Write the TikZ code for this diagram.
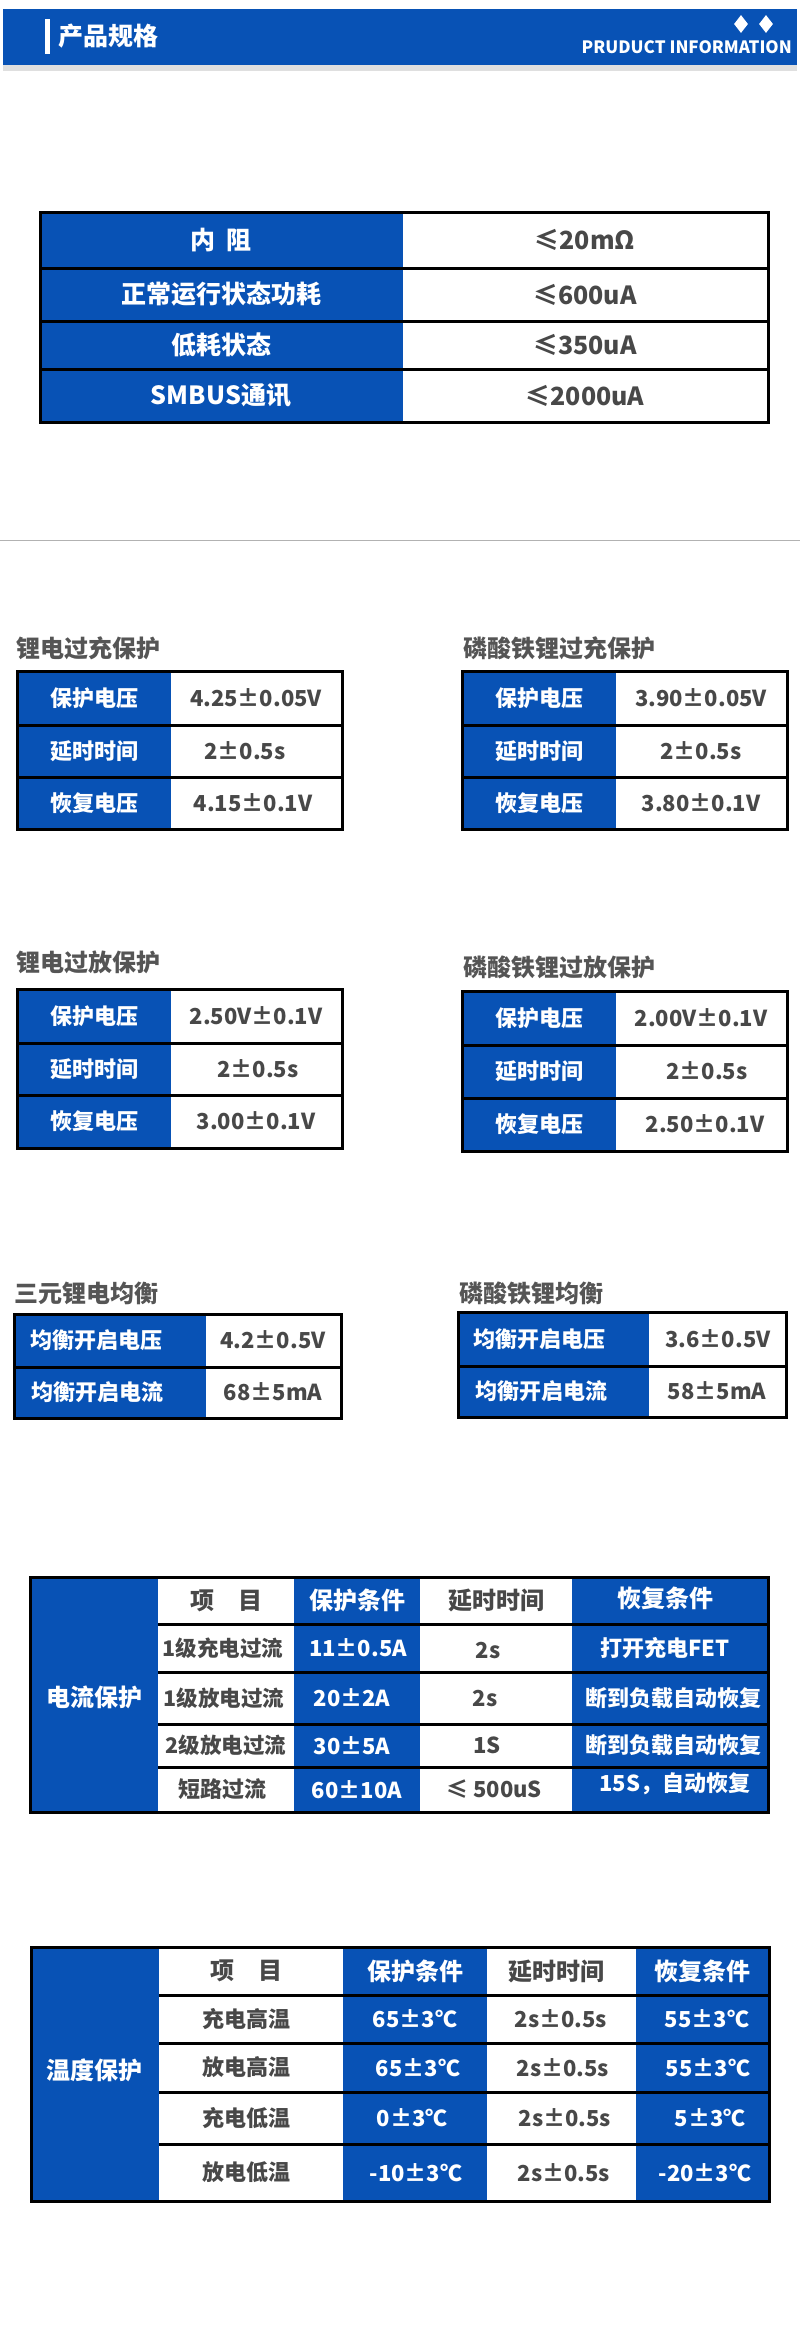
\documentclass[tikz,border=0pt]{standalone}
\usepackage{fontspec}
\usetikzlibrary{shapes.geometric}
\setmainfont{Noto Sans CJK SC}
\definecolor{specblue}{RGB}{8,82,181}
\definecolor{cellgray}{RGB}{72,72,72}
\definecolor{titlegray}{RGB}{85,85,85}
\begin{document}
\begin{tikzpicture}[x=1pt,y=-1pt,
    every node/.style={inner sep=0pt},
    hd/.style={text=white,font=\bfseries\fontsize{24}{24}\selectfont},
    hdg/.style={text=cellgray,font=\bfseries\fontsize{24}{24}\selectfont},
    big/.style={font=\bfseries\fontsize{25}{25}\selectfont},
    lbl/.style={text=white,font=\bfseries\fontsize{22}{22}\selectfont},
    val/.style={text=cellgray,font=\bfseries\fontsize{22}{22}\selectfont},
    item/.style={text=cellgray,font=\bfseries\fontsize{21.5}{21.5}\selectfont},
    ttl/.style={anchor=west,text=titlegray,font=\bfseries\fontsize{24}{24}\selectfont},
    rowline/.style={line width=3pt},
    frame/.style={line width=3pt}]
    \useasboundingbox (0,0) rectangle (800,2350);
    % header
    \fill[gray!25] (3,65) rectangle (797,71);
    \fill[specblue] (3,9) rectangle (797,65);
    \fill[white] (45,19) rectangle (50,54);
    \node[hd,big,anchor=west] (head) at (58,36) {产品规格};
    \node[fill=white,diamond,minimum width=14pt,minimum height=18pt] (dia1) at (741,24) {};
    \node[fill=white,diamond,minimum width=14pt,minimum height=18pt] (dia2) at (766,24) {};
    \node[anchor=east,text=white,font=\bfseries\fontsize{17}{17}\selectfont] (info) at (792,47) {PRUDUCT INFORMATION};
    % table 1
    \fill[specblue] (40,212) rectangle (403,422);
    \draw[rowline] (40,268) -- (768,268);
    \draw[rowline] (40,321) -- (768,321);
    \draw[rowline] (40,369) -- (768,369);
    \draw[frame] (40,212) rectangle (768,422);
    \node[lbl,big] (ra) at (221,240) {内\ \ 阻};
    \node[val,big] (rav) at (585,240) {≤20mΩ};
    \node[lbl,big] (rb) at (221,294.5) {正常运行状态功耗};
    \node[val,big] (rbv) at (585,294.5) {≤600uA};
    \node[lbl,big] (rc) at (221,345) {低耗状态};
    \node[val,big] (rcv) at (585,345) {≤350uA};
    \node[lbl,big] (rd) at (221,395.5) {SMBUS通讯};
    \node[val,big] (rdv) at (585,395.5) {≤2000uA};
    \draw[gray!60,line width=1pt] (0,540) -- (800,540);
    % li over charge
    \node[ttl] (ttlA) at (16,648) {锂电过充保护};
    \fill[specblue] (17,671) rectangle (171,829);
    \draw[rowline] (17,725) -- (342,725);
    \draw[rowline] (17,777) -- (342,777);
    \draw[frame] (17,671) rectangle (342,829);
    \node[lbl] (a1) at (94,698) {保护电压};
    \node[val] (a1v) at (256,698) {4.25±0.05V};
    \node[lbl] (a2) at (94,751) {延时时间};
    \node[val] (a2v) at (245,751) {2±0.5s};
    \node[lbl] (a3) at (94,803) {恢复电压};
    \node[val] (a3v) at (253,803) {4.15±0.1V};
    % lfp over charge
    \node[ttl] (ttlB) at (463,648) {磷酸铁锂过充保护};
    \fill[specblue] (462,671) rectangle (616,829);
    \draw[rowline] (462,725) -- (787,725);
    \draw[rowline] (462,777) -- (787,777);
    \draw[frame] (462,671) rectangle (787,829);
    \node[lbl] (b1) at (539,698) {保护电压};
    \node[val] (b1v) at (701,698) {3.90±0.05V};
    \node[lbl] (b2) at (539,751) {延时时间};
    \node[val] (b2v) at (701,751) {2±0.5s};
    \node[lbl] (b3) at (539,803) {恢复电压};
    \node[val] (b3v) at (701,803) {3.80±0.1V};
    % li over discharge
    \node[ttl] (ttlC) at (16,962) {锂电过放保护};
    \fill[specblue] (17,989) rectangle (171,1148);
    \draw[rowline] (17,1043) -- (342,1043);
    \draw[rowline] (17,1095) -- (342,1095);
    \draw[frame] (17,989) rectangle (342,1148);
    \node[lbl] (c1) at (94,1016) {保护电压};
    \node[val] (c1v) at (256,1016) {2.50V±0.1V};
    \node[lbl] (c2) at (94,1069) {延时时间};
    \node[val] (c2v) at (258,1069) {2±0.5s};
    \node[lbl] (c3) at (94,1121) {恢复电压};
    \node[val] (c3v) at (256,1121) {3.00±0.1V};
    % lfp over discharge
    \node[ttl] (ttlD) at (463,967) {磷酸铁锂过放保护};
    \fill[specblue] (462,991) rectangle (616,1151);
    \draw[rowline] (462,1045) -- (787,1045);
    \draw[rowline] (462,1098) -- (787,1098);
    \draw[frame] (462,991) rectangle (787,1151);
    \node[lbl] (d1) at (539,1018) {保护电压};
    \node[val] (d1v) at (701,1018) {2.00V±0.1V};
    \node[lbl] (d2) at (539,1071) {延时时间};
    \node[val] (d2v) at (707,1071) {2±0.5s};
    \node[lbl] (d3) at (539,1124) {恢复电压};
    \node[val] (d3v) at (705,1124) {2.50±0.1V};
    % ternary balance
    \node[ttl] (ttlE) at (14,1293) {三元锂电均衡};
    \fill[specblue] (14,1314) rectangle (206,1418);
    \draw[rowline] (14,1367) -- (341,1367);
    \draw[frame] (14,1314) rectangle (341,1418);
    \node[lbl] (e1) at (96,1340) {均衡开启电压};
    \node[val] (e1v) at (273,1340) {4.2±0.5V};
    \node[lbl] (e2) at (97,1392) {均衡开启电流};
    \node[val] (e2v) at (273,1392) {68±5mA};
    % lfp balance
    \node[ttl] (ttlF) at (459,1293) {磷酸铁锂均衡};
    \fill[specblue] (458,1312) rectangle (649,1417);
    \draw[rowline] (458,1366) -- (786,1366);
    \draw[frame] (458,1312) rectangle (786,1417);
    \node[lbl] (f1) at (539,1339) {均衡开启电压};
    \node[val] (f1v) at (718,1339) {3.6±0.5V};
    \node[lbl] (f2) at (541,1391) {均衡开启电流};
    \node[val] (f2v) at (717,1391) {58±5mA};
    % current protection
    \fill[specblue] (30,1577) rectangle (158,1812);
    \fill[specblue] (294,1577) rectangle (420,1812);
    \fill[specblue] (572,1577) rectangle (768,1812);
    \draw[rowline] (158,1624) -- (768,1624);
    \draw[rowline] (158,1672) -- (768,1672);
    \draw[rowline] (158,1724) -- (768,1724);
    \draw[rowline] (158,1767) -- (768,1767);
    \draw[frame] (30,1577) rectangle (768,1812);
    \node[hd] (cur) at (94,1697.5) {电流保护};
    \node[hdg] (gh1) at (226,1600.5) {项\quad 目};
    \node[hd] (gh2) at (357,1600.5) {保护条件};
    \node[hdg] (gh3) at (496,1600.5) {延时时间};
    \node[hd] (gh4) at (665,1598) {恢复条件};
    \node[item] (g1) at (223,1648) {1级充电过流};
    \node[lbl] (g1a) at (358,1648) {11±0.5A};
    \node[val] (g1b) at (488,1650) {2s};
    \node[lbl] (g1c) at (665,1648) {打开充电FET};
    \node[item] (g2) at (224,1698) {1级放电过流};
    \node[lbl] (g2a) at (352,1698) {20±2A};
    \node[val] (g2b) at (485,1698) {2s};
    \node[lbl] (g2c) at (673,1698) {断到负载自动恢复};
    \node[item] (g3) at (226,1745.5) {2级放电过流};
    \node[lbl] (g3a) at (352,1745.5) {30±5A};
    \node[val] (g3b) at (487,1745.5) {1S};
    \node[lbl] (g3c) at (673,1745.5) {断到负载自动恢复};
    \node[val] (g4) at (222,1789.5) {短路过流};
    \node[lbl] (g4a) at (357,1789.5) {60±10A};
    \node[val] (g4b) at (494,1789.5) {≤ 500uS};
    \node[lbl] (g4c) at (675,1784) {15S，自动恢复};
    % temperature protection
    \fill[specblue] (31,1947.5) rectangle (159,2201);
    \fill[specblue] (343,1947.5) rectangle (487,2201);
    \fill[specblue] (636,1947.5) rectangle (769,2201);
    \draw[rowline] (159,1995) -- (769,1995);
    \draw[rowline] (159,2043) -- (769,2043);
    \draw[rowline] (159,2092) -- (769,2092);
    \draw[rowline] (159,2144) -- (769,2144);
    \draw[frame] (31,1947.5) rectangle (769,2201);
    \node[hd] (tmp) at (94,2070) {温度保护};
    \node[hdg] (hh1) at (246,1971) {项\quad 目};
    \node[hd] (hh2) at (415,1971) {保护条件};
    \node[hdg] (hh3) at (556,1971) {延时时间};
    \node[hd] (hh4) at (702,1971) {恢复条件};
    \node[val] (h1) at (246,2019) {充电高温};
    \node[lbl] (h1a) at (415,2019) {65±3℃};
    \node[val] (h1b) at (561,2019) {2s±0.5s};
    \node[lbl] (h1c) at (707,2019) {55±3℃};
    \node[val] (h2) at (246,2067.5) {放电高温};
    \node[lbl] (h2a) at (418,2067.5) {65±3℃};
    \node[val] (h2b) at (563,2067.5) {2s±0.5s};
    \node[lbl] (h2c) at (708,2067.5) {55±3℃};
    \node[val] (h3) at (246,2118) {充电低温};
    \node[lbl] (h3a) at (412,2118) {0±3℃};
    \node[val] (h3b) at (565,2118) {2s±0.5s};
    \node[lbl] (h3c) at (710,2118) {5±3℃};
    \node[val] (h4) at (246,2172.5) {放电低温};
    \node[lbl] (h4a) at (416,2172.5) {-10±3℃};
    \node[val] (h4b) at (564,2172.5) {2s±0.5s};
    \node[lbl] (h4c) at (705,2172.5) {-20±3℃};
\end{tikzpicture}
\end{document}
